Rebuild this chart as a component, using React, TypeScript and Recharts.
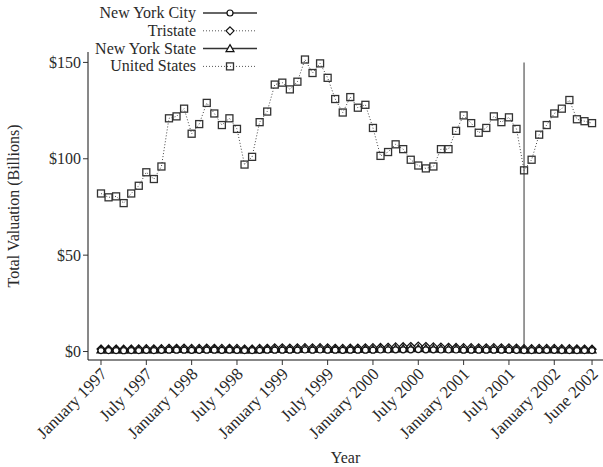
import React from 'react';
import { LineChart, Line, XAxis, YAxis, ReferenceLine } from 'recharts';

// months since January 1997
const months = Array.from({ length: 66 }, (_, i) => i);

const unitedStates = [
  82, 80, 80.5, 77, 82, 86, 93, 89.5, 96, 121, 122, 126,
  113, 118, 129, 123.5, 117.5, 121, 115.5, 97, 101, 119, 124.5, 138.5,
  139.5, 136, 140, 151.5, 144.5, 149.5, 142, 131, 124, 132, 126.5, 128,
  116, 101.5, 103.5, 107.5, 105, 99.5, 96.5, 95, 96, 105, 105, 114.5,
  122.5, 118.5, 113.5, 116, 122, 119, 121.5, 115.5, 94, 99.5, 112.5, 117.5,
  123.5, 126, 130.5, 120.5, 119.5, 118.5,
];
const tristate = [
  1.3, 1.2, 1.3, 1.2, 1.3, 1.4, 1.5, 1.4, 1.5, 1.7, 1.7, 1.8,
  1.6, 1.6, 1.8, 1.7, 1.6, 1.7, 1.6, 1.3, 1.3, 1.6, 1.7, 1.9,
  1.9, 1.8, 1.9, 2.0, 1.9, 2.0, 1.9, 1.7, 1.6, 1.8, 1.8, 1.9,
  2.0, 2.1, 2.2, 2.4, 2.5, 2.6, 2.8, 2.6, 2.4, 2.3, 2.2, 2.1,
  2.0, 2.0, 1.9, 1.9, 2.0, 1.9, 1.9, 1.8, 1.5, 1.5, 1.6, 1.6,
  1.6, 1.5, 1.5, 1.4, 1.3, 1.2,
];
const newYorkState = [
  0.9, 0.8, 0.9, 0.8, 0.9, 0.9, 1.0, 0.9, 1.0, 1.1, 1.1, 1.2,
  1.0, 1.1, 1.2, 1.1, 1.0, 1.1, 1.0, 0.9, 0.9, 1.0, 1.1, 1.2,
  1.2, 1.1, 1.2, 1.3, 1.2, 1.3, 1.2, 1.1, 1.0, 1.1, 1.1, 1.2,
  1.2, 1.3, 1.3, 1.4, 1.5, 1.5, 1.6, 1.5, 1.4, 1.4, 1.3, 1.3,
  1.2, 1.2, 1.2, 1.2, 1.2, 1.1, 1.1, 1.1, 0.9, 0.9, 1.0, 1.0,
  1.0, 0.9, 0.9, 0.9, 0.8, 0.8,
];
const newYorkCity = [
  0.5, 0.5, 0.5, 0.4, 0.5, 0.5, 0.6, 0.5, 0.6, 0.7, 0.7, 0.7,
  0.6, 0.6, 0.7, 0.7, 0.6, 0.7, 0.6, 0.5, 0.5, 0.6, 0.7, 0.7,
  0.7, 0.7, 0.7, 0.8, 0.7, 0.8, 0.7, 0.7, 0.6, 0.7, 0.7, 0.7,
  0.7, 0.8, 0.8, 0.9, 0.9, 0.9, 1.0, 0.9, 0.9, 0.8, 0.8, 0.8,
  0.7, 0.7, 0.7, 0.7, 0.7, 0.7, 0.7, 0.6, 0.5, 0.5, 0.6, 0.6,
  0.6, 0.5, 0.5, 0.5, 0.5, 0.5,
];

const xTicks = [0, 6, 12, 18, 24, 30, 36, 42, 48, 54, 60, 65];
const xTickLabels = [
  'January 1997', 'July 1997', 'January 1998', 'July 1998', 'January 1999', 'July 1999',
  'January 2000', 'July 2000', 'January 2001', 'July 2001', 'January 2002', 'June 2002',
];
const yTicks = [0, 50, 100, 150];
const septemberIdx = 56;

const data = months.map((m, i) => ({
  m,
  nyc: newYorkCity[i],
  tri: tristate[i],
  nys: newYorkState[i],
  us: unitedStates[i],
}));

const FONT = '"Liberation Serif", "Times New Roman", serif';
const INK = '#2a2a2a';

const Circle = (p: any) => <circle cx={p.cx} cy={p.cy} r={3} fill="#fff" stroke="#111" strokeWidth={1.2} />;
const Diamond = (p: any) => (
  <polygon points={`${p.cx},${p.cy - 4} ${p.cx + 4},${p.cy} ${p.cx},${p.cy + 4} ${p.cx - 4},${p.cy}`}
    fill="#fff" stroke="#111" strokeWidth={1.2} />
);
const Triangle = (p: any) => (
  <polygon points={`${p.cx},${p.cy - 4} ${p.cx + 4},${p.cy + 3} ${p.cx - 4},${p.cy + 3}`}
    fill="#fff" stroke="#111" strokeWidth={1.2} />
);
const Square = (p: any) => (
  <rect x={p.cx - 3.5} y={p.cy - 3.5} width={7} height={7} fill="none" stroke="#333" strokeWidth={1.3} />
);

const XTick = (p: any) => {
  const idx = xTicks.indexOf(p.payload.value);
  const x = p.x + 7;
  const y = p.y + 8;
  return (
    <text x={x} y={y} transform={`rotate(-45 ${x} ${y})`} textAnchor="end"
      fontFamily={FONT} fontSize={17} fill={INK}>
      {xTickLabels[idx]}
    </text>
  );
};

const legendRows = [
  { name: 'New York City', dash: undefined, Mark: Circle },
  { name: 'Tristate', dash: '1 2', Mark: Diamond },
  { name: 'New York State', dash: undefined, Mark: Triangle },
  { name: 'United States', dash: '1 2', Mark: Square },
];

const LegendBox = () => (
  <svg width={262} height={76} style={{ display: 'block' }}>
    {legendRows.map((r, i) => {
      const y = 13 + i * 17.8;
      return (
        <g key={r.name}>
          <text x={196} y={y + 5} textAnchor="end" fontFamily={FONT} fontSize={16} fill={INK}>{r.name}</text>
          <line x1={203} x2={257} y1={y} y2={y} stroke={r.dash ? '#555' : '#333'} strokeWidth={r.dash ? 1 : 1.5}
            strokeDasharray={r.dash} />
          <r.Mark cx={230} cy={y} />
        </g>
      );
    })}
  </svg>
);

export default function App() {
  return (
    <div style={{ position: 'absolute', left: 0, top: 0, width: 603, height: 467, background: '#fff' }}>
      <LineChart width={603} height={467} data={data} margin={{ top: 52, right: 0, left: 0, bottom: 0 }}>
        <XAxis dataKey="m" type="number" domain={[-1.72, 66.45]} ticks={xTicks} tick={<XTick />}
          height={107} stroke="#111" tickLine={{ stroke: '#333' }} tickSize={5} allowDataOverflow
          label={{ value: 'Year', position: 'insideBottom', offset: 4, fontFamily: FONT, fontSize: 16, fill: INK }} />
        <YAxis type="number" domain={[-4.4, 155.4]} ticks={yTicks} width={88} stroke="#111"
          tickLine={{ stroke: '#333' }} tickSize={5} allowDataOverflow
          tickFormatter={(v: number) => `$${v}`}
          tick={{ fontFamily: FONT, fontSize: 16, fill: INK }}
          label={{ value: 'Total Valuation (Billions)', angle: -90, position: 'insideLeft', offset: 13,
            style: { textAnchor: 'middle' }, fontFamily: FONT, fontSize: 16, fill: INK }} />
        <ReferenceLine segment={[{ x: septemberIdx, y: 0 }, { x: septemberIdx, y: 150 }]} stroke="#777" strokeWidth={1.5} />
        <Line dataKey="us" stroke="#444" strokeWidth={1} strokeDasharray="1 2" dot={<Square />} isAnimationActive={false} />
        <Line dataKey="tri" stroke="#444" strokeWidth={1} strokeDasharray="1 2" dot={<Diamond />} isAnimationActive={false} />
        <Line dataKey="nys" stroke="#222" strokeWidth={1.5} dot={<Triangle />} isAnimationActive={false} />
        <Line dataKey="nyc" stroke="#222" strokeWidth={1.5} dot={<Circle />} isAnimationActive={false} />
      </LineChart>
      <div style={{ position: 'absolute', left: 0, top: 0 }}>
        <LegendBox />
      </div>
    </div>
  );
}
